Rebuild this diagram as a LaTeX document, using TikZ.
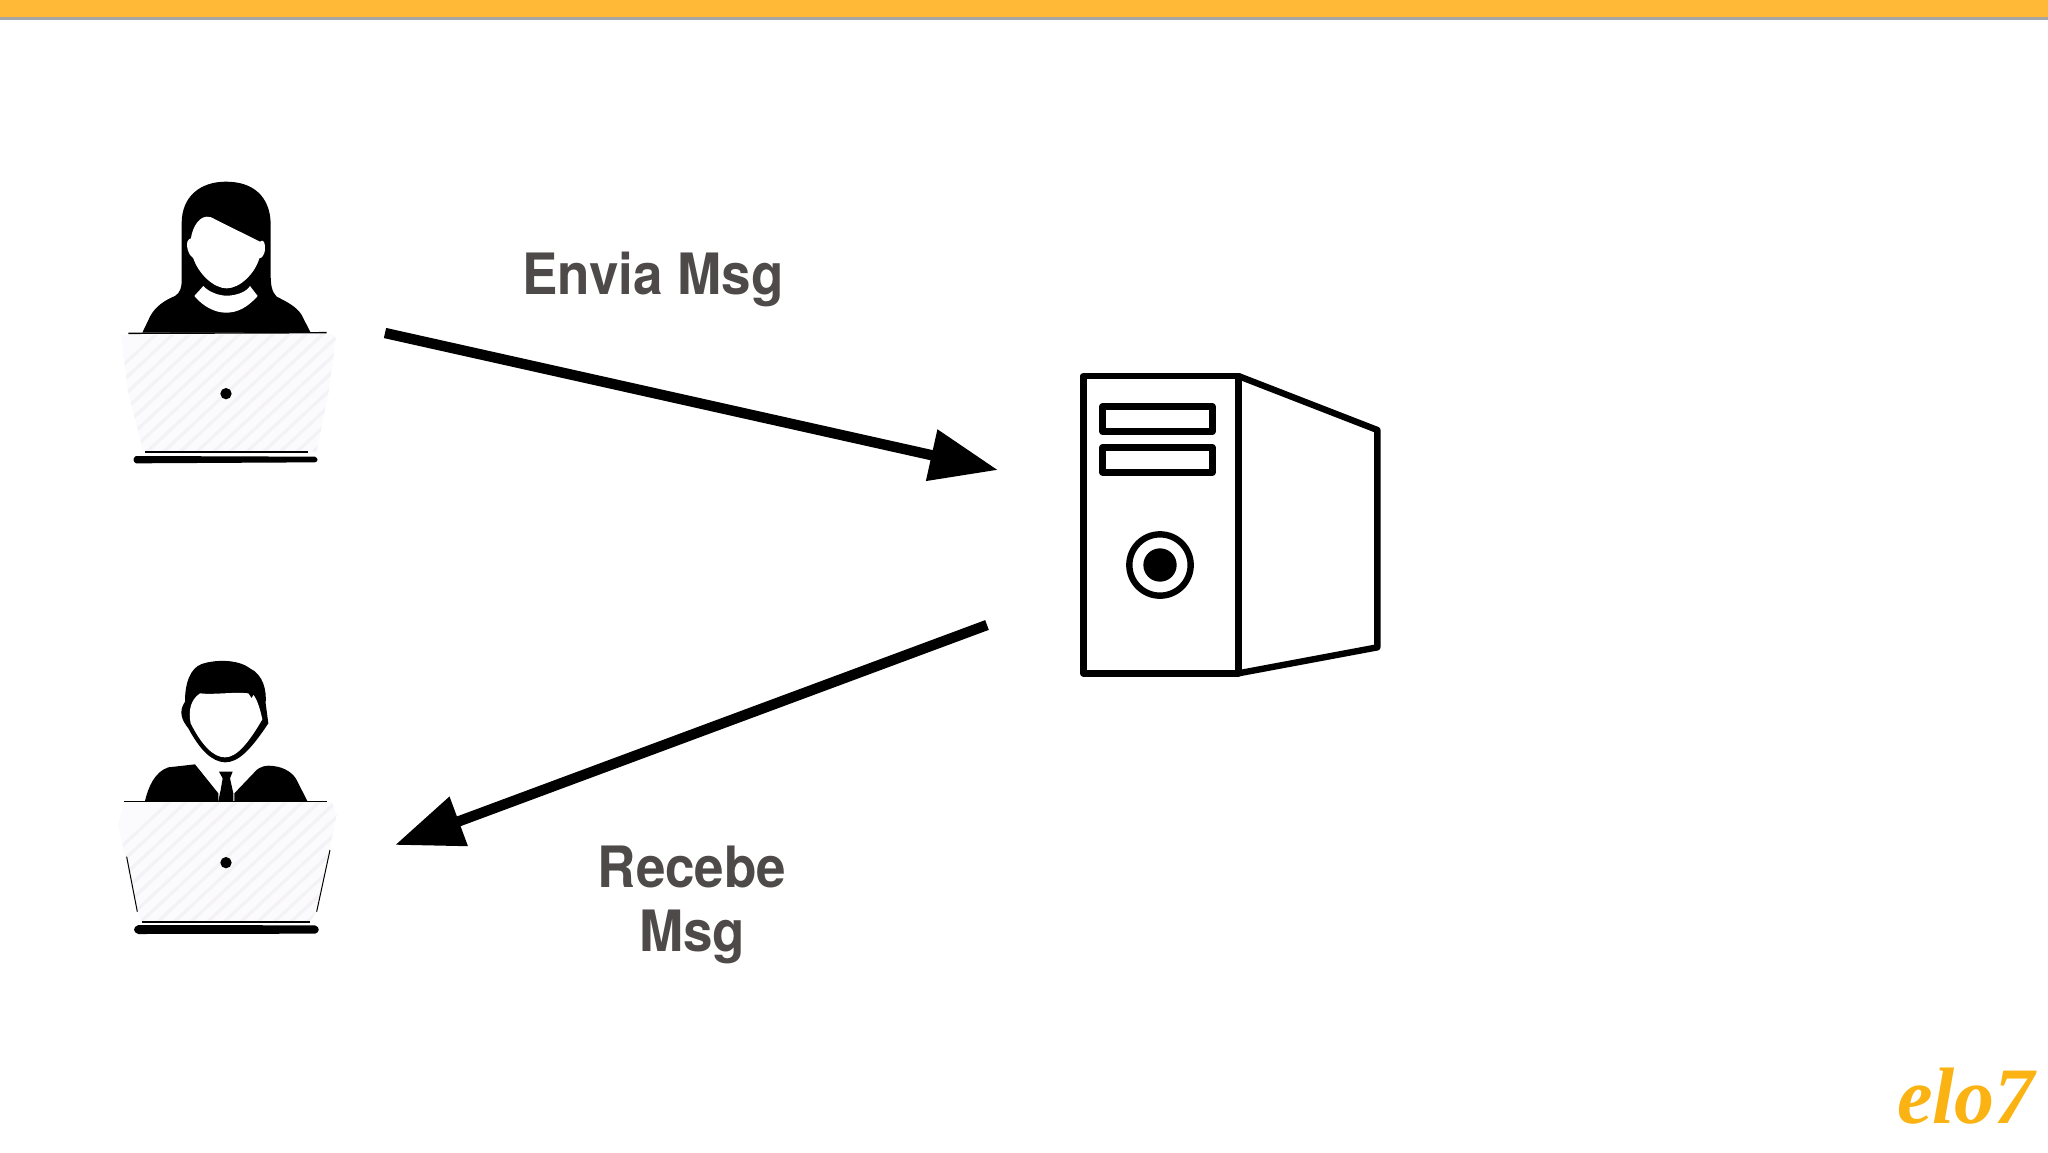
\documentclass[tikz,border=0pt]{standalone}
\usepackage{fontspec}
\setmainfont{TeX Gyre Heros}[FakeStretch=0.93]
\newfontfamily\logofont{Liberation Serif}
\usetikzlibrary{arrows.meta,positioning}
\definecolor{topbar}{HTML}{FFB937}
\definecolor{logogold}{HTML}{FAB312}
\definecolor{labelgrey}{HTML}{4F4A4A}
\definecolor{padfill}{HTML}{FBFAFC}
\definecolor{padline}{HTML}{F4F2F6}
\newcommand{\padhatch}{\foreach \i in {0,50,...,1000} \draw[padstripe] (\i-300,960)--(\i+300,400);}

\begin{document}
\begin{tikzpicture}[x=0.5pt,y=-0.5pt,label/.style={font=\fontsize{28.5}{32}\selectfont\bfseries,text=labelgrey,align=center,inner sep=0pt},ink/.style={fill=black,draw=none},blank/.style={fill=white,draw=none},padstripe/.style={draw=padline,line width=1.6pt},arrow/.style={-{Triangle[length=34pt,width=25pt]},line width=5.2pt},tower/.style={draw=black,line width=3.2pt,line join=round}]
\useasboundingbox (0,0) rectangle (2048,1152);
\fill[topbar] (0,0) rectangle (2048,17);
\fill[black!35] (0,17) rectangle (2048,19.5);

\begin{scope}[shift={(100,160)},scale=1/3]
\fill[ink] (127,518) -- (150,470) .. controls (165,440) and (195,420) .. (225,408) .. controls (240,398) and (245,385) .. (245,360) -- (245,190) .. controls (245,110) and (300,65) .. (378,65) .. controls (460,65) and (510,110) .. (512,190) -- (512,340) .. controls (512,375) and (515,395) .. (530,410) .. controls (560,425) and (590,440) .. (605,465) -- (632,518) -- cycle;
\fill[blank] (320,170) .. controls (330,170) and (335,172) .. (345,178) -- (480,245) .. controls (490,235) and (497,250) .. (495,270) .. controls (493,285) and (485,295) .. (478,295) .. controls (465,340) and (420,385) .. (380,385) .. controls (340,385) and (295,340) .. (280,295) .. controls (265,285) and (258,260) .. (262,245) .. controls (265,238) and (270,235) .. (273,235) .. controls (275,215) and (290,172) .. (320,170) -- cycle;
\fill[blank] (310,378) .. controls (325,395) and (355,407) .. (380,407) .. controls (410,407) and (440,395) .. (450,378) -- (473,408) .. controls (440,445) and (410,458) .. (378,458) .. controls (345,458) and (310,440) .. (283,408) -- cycle;
\begin{scope}
\clip (62,525) -- (695,522) -- (708,535) -- (685,700) -- (650,875) -- (130,875) -- (85,700) -- cycle;
\fill[padfill] (0,500) rectangle (800,900);
\padhatch
\end{scope}
\draw[line width=0.7pt] (85,520) -- (680,518);
\draw[line width=1.2pt] (135,876) -- (625,876);
\fill[ink] (108,888) -- (645,890) .. controls (655,895) and (655,905) .. (645,907) -- (108,910) .. controls (98,905) and (98,893) .. (108,888) -- cycle;
\fill[ink] (378,701) circle (17);
\end{scope}

\begin{scope}[shift={(100,640)},scale=1/3]
\fill[ink] (375,367) .. controls (335,365) and (300,330) .. (265,265) .. controls (245,240) and (235,215) .. (255,185) .. controls (255,130) and (270,85) .. (305,72) .. controls (340,60) and (410,55) .. (450,85) .. controls (490,105) and (500,150) .. (497,190) -- (505,250) -- (495,265) .. controls (450,330) and (415,367) .. (375,367) -- cycle;
\fill[blank] (300,160) .. controls (340,165) and (400,155) .. (445,160) -- (455,175) -- (460,165) .. controls (470,175) and (480,205) .. (487,238) .. controls (445,310) and (410,352) .. (375,352) .. controls (340,352) and (305,315) .. (272,250) .. controls (265,215) and (270,180) .. (300,160) -- cycle;
\fill[ink] (135,483) .. controls (145,440) and (165,395) .. (205,382) -- (285,373) -- (355,460) -- (355,483) -- cycle;
\fill[ink] (357,395) -- (398,395) -- (390,415) -- (400,460) -- (400,483) -- (355,483) -- (362,450) -- (368,415) -- cycle;
\fill[ink] (403,460) -- (465,395) .. controls (480,378) and (500,375) .. (520,378) .. controls (555,382) and (580,400) .. (590,420) -- (622,483) -- (403,483) -- cycle;
\begin{scope}
\clip (70,487) -- (695,487) -- (710,525) -- (650,815) -- (630,845) -- (125,845) -- (110,815) -- (55,555) -- cycle;
\fill[padfill] (0,450) rectangle (800,900);
\padhatch
\end{scope}
\draw[line width=0.8pt] (73,485) -- (680,485);
\draw[line width=0.5pt] (80,650) -- (112,815);
\draw[line width=0.5pt] (690,630) -- (650,815);
\draw[line width=1.2pt] (125,846) -- (630,846);
\fill[ink] (115,855) -- (645,856) .. controls (660,860) and (660,878) .. (645,881) -- (115,882) .. controls (98,878) and (98,860) .. (115,855) -- cycle;
\fill[ink] (378,668) circle (17);
\end{scope}

\begin{scope}[shift={(1060,360)},scale=1/3]
\draw[tower] (70,48) rectangle (535,940);
\draw[tower] (535,48) -- (952,210) -- (952,862) -- (535,940);
\draw[tower] (128,140) rectangle (457,215);
\draw[tower] (128,262) rectangle (457,337);
\draw[tower] (300,615) circle (92);
\fill[ink] (300,615) circle (50);
\end{scope}

\coordinate (sendfrom) at (385,333);
\coordinate (sendto) at (998,470);
\coordinate (getfrom) at (987,625);
\coordinate (getto) at (395,845);
\draw[arrow] (sendfrom)--(sendto);
\draw[arrow] (getfrom)--(getto);

\node[label,anchor=base] (envia) at (653,294) {Envia Msg};
\node[label,anchor=base] (recebe) at (692,951) {Recebe\\Msg};
\node[anchor=base,inner sep=0pt,text=logogold,font=\logofont\fontsize{40}{40}\selectfont\bfseries\itshape] (logo) at (1966,1123) {elo7};
\end{tikzpicture}
\end{document}
